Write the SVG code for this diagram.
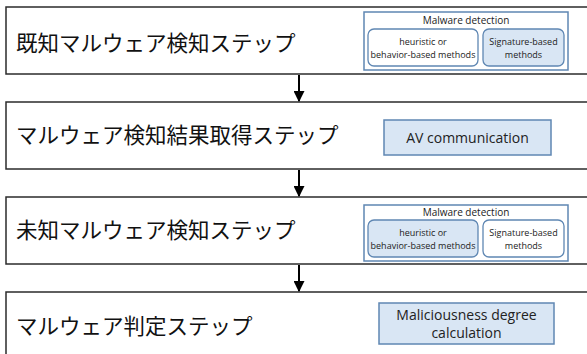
<svg xmlns="http://www.w3.org/2000/svg" width="587" height="354" viewBox="0 0 587 354">
  <style>
    .step { fill: #ffffff; stroke: #2b2b2b; stroke-width: 1.5; }
    .jp { font-family: "Noto Sans CJK JP", "Noto Sans", sans-serif; font-size: 21.5px; fill: #111; }
    .group { fill: #ffffff; stroke: #5f87b3; stroke-width: 1.5; }
    .sub { stroke: #5f87b3; stroke-width: 1.3; }
    .on { fill: #d9e6f4; }
    .off { fill: #ffffff; }
    .blk { fill: #d9e6f4; stroke: #5f87b3; stroke-width: 1.5; }
    .t10 { font-family: "Open Sans", "Noto Sans", sans-serif; font-size: 10px; fill: #222; text-anchor: middle; }
    .t9 { font-family: "Open Sans", "Noto Sans", sans-serif; font-size: 9px; fill: #222; text-anchor: middle; }
    .t14 { font-family: "Open Sans", "Noto Sans", sans-serif; font-size: 14px; fill: #222; text-anchor: middle; }
    .arrow { stroke: #000; stroke-width: 2; fill: none; }
  </style>
  <defs>
    <marker id="head" viewBox="0 0 10 10" refX="9" refY="5" markerWidth="5.5" markerHeight="5.5" orient="auto" markerUnits="strokeWidth">
      <path d="M0,0 L10,5 L0,10 Z" fill="#000"/>
    </marker>
  </defs>

  <g id="step1">
    <rect class="step" x="6" y="7" width="600" height="67"/>
    <text class="jp" x="16" y="51">既知マルウェア検知ステップ</text>
    <rect class="group" x="364" y="12" width="204" height="58"/>
    <text class="t10" x="466" y="24">Malware detection</text>
    <rect class="sub off" x="368" y="29" width="110" height="37" rx="6"/>
    <text class="t9" x="423" y="45">heuristic or</text>
    <text class="t9" x="423" y="58">behavior-based methods</text>
    <rect class="sub on" x="483" y="29" width="81" height="37" rx="6"/>
    <text class="t9" x="523.5" y="45">Signature-based</text>
    <text class="t9" x="523.5" y="58">methods</text>
  </g>

  <g id="step2">
    <rect class="step" x="6" y="102" width="600" height="67"/>
    <text class="jp" x="16" y="143">マルウェア検知結果取得ステップ</text>
    <rect class="blk" x="384" y="120" width="167" height="35"/>
    <text class="t14" x="467.5" y="142.5">AV communication</text>
  </g>

  <g id="step3">
    <rect class="step" x="6" y="197" width="600" height="67"/>
    <text class="jp" x="16" y="238">未知マルウェア検知ステップ</text>
    <rect class="group" x="364" y="205" width="204" height="56"/>
    <text class="t10" x="466" y="216">Malware detection</text>
    <rect class="sub on" x="368" y="220" width="110" height="37" rx="6"/>
    <text class="t9" x="423" y="236">heuristic or</text>
    <text class="t9" x="423" y="249">behavior-based methods</text>
    <rect class="sub off" x="483" y="220" width="81" height="37" rx="6"/>
    <text class="t9" x="523.5" y="236">Signature-based</text>
    <text class="t9" x="523.5" y="249">methods</text>
  </g>

  <g id="step4">
    <rect class="step" x="6" y="292" width="600" height="80"/>
    <text class="jp" x="16" y="334">マルウェア判定ステップ</text>
    <rect class="blk" x="379" y="303" width="175" height="41"/>
    <text class="t14" x="466.5" y="320">Maliciousness degree</text>
    <text class="t14" x="466.5" y="338">calculation</text>
  </g>

  <g id="connectors">
    <line class="arrow" x1="299" y1="75" x2="299" y2="101" marker-end="url(#head)"/>
    <line class="arrow" x1="299" y1="170" x2="299" y2="196" marker-end="url(#head)"/>
    <line class="arrow" x1="299" y1="265" x2="299" y2="291" marker-end="url(#head)"/>
  </g>
</svg>
